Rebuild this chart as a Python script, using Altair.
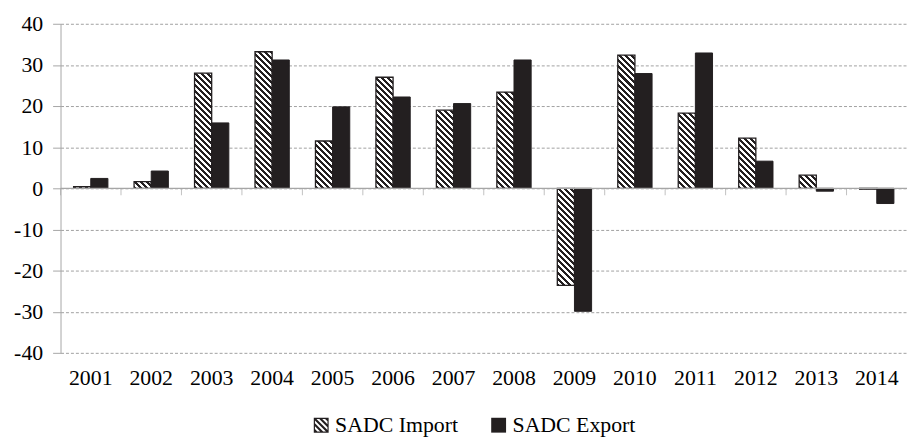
import math
import altair as alt
import pandas as pd

# ---------------- data ----------------
years = [str(y) for y in range(2001, 2015)]
sadc_import = [0.4, 1.6, 28.0, 33.2, 11.5, 27.0, 19.0, 23.4, -23.6, 32.4, 18.3, 12.2, 3.2, -0.2]
sadc_export = [2.4, 4.2, 15.9, 31.2, 19.8, 22.2, 20.6, 31.2, -29.9, 27.9, 32.9, 6.6, -0.7, -3.7]
series_names = ["SADC Import", "SADC Export"]
y_ticks = [-40, -30, -20, -10, 0, 10, 20, 30, 40]

rows = []
for yr, vi, ve in zip(years, sadc_import, sadc_export):
    rows.append({"year": yr, "series": series_names[0], "value": vi})
    rows.append({"year": yr, "series": series_names[1], "value": ve})
df = pd.DataFrame(rows)

# ---------------- style ----------------
FONT = "Liberation Serif"
BLACK = "#231f20"
WHITE = "#ffffff"
GRAY = "#a6a6a6"
GRID = "#a0a0a0"
PLOT_W = 854
PLOT_H = 332
OFF_PAD = 0.763
STEP = PLOT_W / len(years)
BAR_W = STEP / (2 + 2 * OFF_PAD)
PX_PER_UNIT = PLOT_H / 80.0
HALF_PERIOD = 2.15  # px, perpendicular to the hatch lines


def hatch_gradient(v):
    """Diagonal (\\) hatching for one bar, as a striped linear gradient."""
    w = BAR_W
    h = max(abs(v) * PX_PER_UNIT, 0.5)
    r = h / w
    p = (1 + r) / (1 + r * r)
    length = (w + h) / math.sqrt(2)
    stops = []
    t0, j = 0.0, 0
    while t0 < 1:
        t1 = min(1.0, t0 + HALF_PERIOD / length)
        c = BLACK if j % 2 == 0 else WHITE
        stops.append({"offset": round(t0, 5), "color": c})
        stops.append({"offset": round(t1, 5), "color": c})
        t0, j = t1, j + 1
    return {"gradient": "linear", "x1": 0, "y1": 1, "x2": round(p, 6),
            "y2": round(1 - p * r, 6), "stops": stops}


def clip(poly, a, b, c):
    out = []
    n = len(poly)
    for i in range(n):
        P, Q = poly[i], poly[(i + 1) % n]
        fp = a * P[0] + b * P[1] - c
        fq = a * Q[0] + b * Q[1] - c
        if fp <= 0:
            out.append(P)
        if fp * fq < 0:
            t = fp / (fp - fq)
            out.append((P[0] + t * (Q[0] - P[0]), P[1] + t * (Q[1] - P[1])))
    return out


def poly_path(pts):
    return "M" + " L".join(f"{x:.3f} {y:.3f}" for x, y in pts) + " Z"


def hatch_symbol():
    s = 0.84
    outer = [(-1, -1), (1, -1), (1, 1), (-1, 1)]
    inner = [(-s, -s), (s, -s), (s, s), (-s, s)]
    parts = [poly_path(outer), poly_path(list(reversed(inner)))]
    for k in range(-3, 4):
        c = k * 0.78
        band = clip(inner, 1, -1, c + 0.2)
        band = clip(band, -1, 1, -(c - 0.2))
        if len(band) >= 3:
            parts.append(poly_path(band))
    return " ".join(parts)


HATCH_PATH = hatch_symbol()

fill_def = {
    "condition": [
        {"test": f"datum.year == '{yr}'", "value": hatch_gradient(v)}
        for yr, v in zip(years, sadc_import)
    ],
    "value": BLACK,
}


def x_axis():
    return alt.Axis(title=None, labelAngle=0, labelFont=FONT, labelFontSize=22,
                    labelColor="black", ticks=False, tickSize=0, domain=False,
                    labelPadding=15, grid=False)


def y_axis():
    return alt.Axis(title=None, values=y_ticks, labelFont=FONT, labelFontSize=22,
                    labelColor="black", labelPadding=10, tickSize=8, tickColor=GRAY,
                    domainColor=GRAY, gridColor=GRID, gridDash=[3, 2], grid=True,
                    labelFlush=False,
                    labelExpr="datum.value < 0 ? '-' + abs(datum.value) : datum.label")


def y_scale():
    return alt.Scale(domain=[-40, 40], nice=False, zero=False)


x_enc = alt.X("year:N", sort=years, scale=alt.Scale(paddingInner=0, paddingOuter=0),
              axis=x_axis())
xoff_enc = alt.XOffset(
    "series:N",
    scale=alt.Scale(domain=series_names, paddingInner=0, paddingOuter=OFF_PAD),
)
y_enc = alt.Y("value:Q", scale=y_scale(), axis=y_axis())

base = alt.Chart(df)

export_bars = base.transform_filter(
    alt.datum.series == series_names[1]
).mark_bar(fill=BLACK, stroke=BLACK, strokeWidth=1).encode(
    x=x_enc, xOffset=xoff_enc, y=y_enc
)

import_bars = base.transform_filter(
    alt.datum.series == series_names[0]
).mark_bar(stroke=BLACK, strokeWidth=1.3).encode(
    x=x_enc, xOffset=xoff_enc, y=y_enc, fill=fill_def
)

zero_line = alt.Chart(pd.DataFrame({"z": [0]})).mark_rule(
    color=GRAY, strokeWidth=1.2
).encode(y=alt.Y("z:Q", scale=y_scale(), axis=y_axis()))

zero_ticks = alt.Chart(pd.DataFrame({"year": years, "z": [0] * len(years)})).mark_tick(
    orient="vertical", size=7, thickness=1, color=GRAY, yOffset=3.5
).encode(
    x=alt.X("year:N", sort=years, bandPosition=0,
            scale=alt.Scale(paddingInner=0, paddingOuter=0), axis=x_axis()),
    y=alt.Y("z:Q", scale=y_scale(), axis=y_axis()),
)

legend_layer = base.transform_filter("false").mark_point(
    filled=True, opacity=1, color=BLACK
).encode(
    shape=alt.Shape(
        "series:N",
        scale=alt.Scale(domain=series_names, range=[HATCH_PATH, "square"]),
        legend=alt.Legend(
            title=None, orient="none", legendX=252, legendY=394,
            direction="horizontal", symbolSize=225, symbolStrokeWidth=0,
            symbolFillColor=BLACK, symbolOpacity=1, labelFont=FONT,
            labelFontSize=22, labelColor="black", labelOffset=3,
            columnPadding=29,
        ),
    )
)

chart = alt.layer(
    import_bars, export_bars, zero_line, zero_ticks, legend_layer
).properties(
    width=PLOT_W,
    height=PLOT_H,
    padding={"left": 53, "top": 14, "right": 0, "bottom": 84},
    autosize=alt.AutoSizeParams(type="none"),
    background="white",
).configure_view(stroke=None)

chart.save("out.html", embed_options={"renderer": "svg", "actions": False})
